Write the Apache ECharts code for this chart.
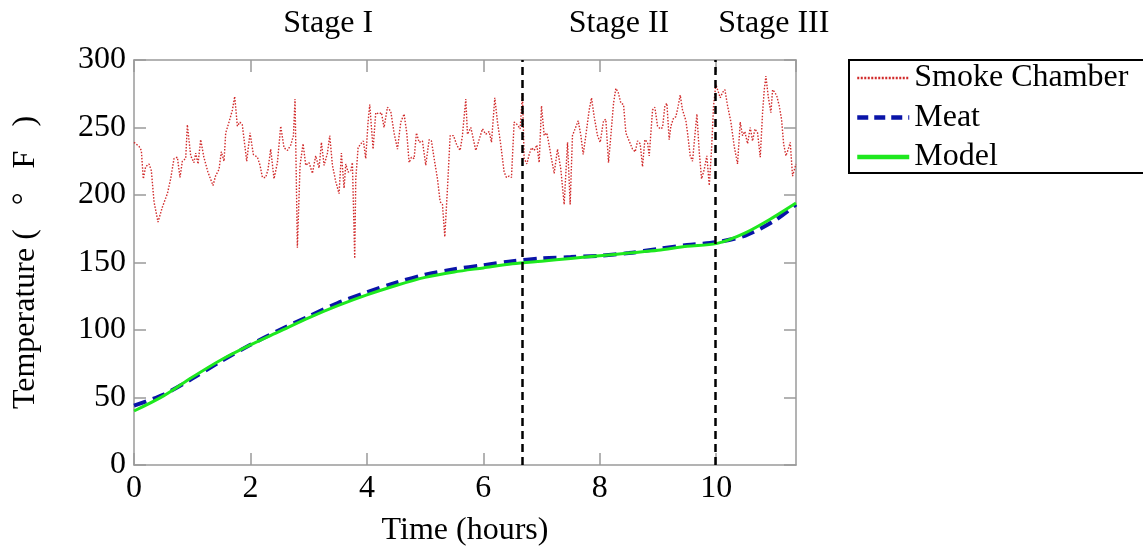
<!DOCTYPE html>
<html>
<head>
<meta charset="utf-8">
<title>Smoking temperature</title>
<script src="https://cdn.jsdelivr.net/npm/echarts/dist/echarts.min.js"></script>
<style>
  html, body { margin: 0; padding: 0; background: #fff; }
  #main { width: 1143px; height: 552px; }
</style>
</head>
<body>
<div id="main"></div>
<script>
  // smoke chamber readings (hours, deg F)
  var smokeTime = [
    0, 0.086, 0.126, 0.16, 0.2, 0.258, 0.298, 0.344, 0.412, 0.487, 0.573, 0.63, 0.687, 0.745, 0.79, 0.83, 0.888, 0.916, 0.974, 1.03,
    1.06, 1.10, 1.145, 1.20, 1.27, 1.357, 1.40, 1.46, 1.50, 1.546, 1.575, 1.632, 1.69, 1.73, 1.775, 1.82, 1.86,
    1.936, 1.993, 2.05, 2.12, 2.165, 2.205, 2.262, 2.302, 2.348, 2.405, 2.463, 2.52, 2.577, 2.635, 2.692, 2.738, 2.766, 2.806, 2.852, 2.904,
    2.95, 3.007, 3.064, 3.121, 3.179, 3.219, 3.265, 3.322, 3.362, 3.408, 3.465, 3.522, 3.562, 3.608, 3.637, 3.677, 3.723, 3.751, 3.791,
    3.809, 3.849, 3.895, 3.94, 3.98, 4.02, 4.049, 4.078, 4.106, 4.152, 4.21, 4.25, 4.295, 4.353, 4.41, 4.467, 4.525, 4.582, 4.639, 4.685,
    4.725, 4.765, 4.811, 4.851, 4.897, 4.954, 5.011, 5.069, 5.109, 5.155, 5.212, 5.258, 5.298, 5.338, 5.384, 5.43, 5.487, 5.544, 5.601, 5.641, 5.67,
    5.699, 5.727, 5.785, 5.87, 5.928, 5.985, 6.042, 6.1, 6.14, 6.197, 6.243, 6.3, 6.357, 6.397, 6.443, 6.483, 6.529, 6.586, 6.632, 6.672,
    6.701, 6.747, 6.787, 6.827, 6.873, 6.919, 6.959, 6.999, 7.045, 7.09, 7.13, 7.17, 7.216, 7.274, 7.331, 7.388, 7.446, 7.491, 7.531,
    7.629, 7.675, 7.715, 7.76, 7.818, 7.858, 7.904, 7.961, 8.007, 8.064, 8.104, 8.15, 8.19, 8.236, 8.276, 8.316, 8.362, 8.408, 8.448, 8.505,
    8.562, 8.608, 8.648, 8.694, 8.734, 8.774, 8.82, 8.849, 8.906, 8.946, 8.992, 9.038, 9.078, 9.118, 9.152, 9.192, 9.221, 9.267, 9.307, 9.347,
    9.381, 9.421, 9.479,
    9.507, 9.553, 9.593, 9.633, 9.668, 9.708, 9.748, 9.794, 9.839, 9.88, 9.92, 9.954, 9.994, 10.023, 10.069, 10.109, 10.149, 10.195, 10.252, 10.309,
    10.366, 10.412, 10.452, 10.492, 10.538, 10.584, 10.624, 10.664, 10.71, 10.756, 10.796, 10.825, 10.853, 10.893, 10.939, 10.968, 11.008, 11.042,
    11.082, 11.122, 11.157, 11.197, 11.237, 11.271, 11.311, 11.369
  ];
  var smokeTemp = [
    239, 236, 233, 212, 221, 223, 218, 195, 180, 191, 201, 212, 227, 228, 213, 225, 227, 252, 229, 224,
    231, 223, 241, 228, 217, 207, 214, 219, 232, 225, 246, 254, 263, 273, 251, 254, 252,
    225, 246, 230, 228, 222, 213, 213, 219, 234, 212, 224, 251, 235, 233, 237, 244, 271, 161, 222, 238,
    222, 224, 216, 229, 220, 239, 222, 231, 244, 222, 210, 201, 231, 205, 223, 217, 218, 224, 153,
    212, 235, 238, 240, 227, 254, 267, 266, 234, 261, 260, 261, 250, 265, 262, 246, 234, 254, 260, 246,
    224, 228, 227, 246, 239, 240, 222, 241, 240, 227, 212, 195, 193, 169, 205, 244, 244, 237, 233, 244, 258,
    271, 245, 250, 233, 241, 249, 245, 247, 239, 272, 254, 237, 217, 213, 214, 213, 254, 252, 249, 275,
    227, 223, 230, 235, 233, 237, 224, 266, 244, 246, 237, 227, 216, 234, 219, 193, 239, 193, 244,
    255, 244, 230, 244, 263, 272, 258, 244, 239, 255, 256, 224, 244, 268, 279, 276, 268, 267, 246, 240,
    234, 232, 240, 238, 221, 241, 239, 229, 263, 265, 251, 249, 250, 266, 268, 241, 251, 257, 258, 266,
    274, 263, 255,
    246, 229, 225, 244, 260, 232, 212, 219, 229, 207, 234, 266, 282, 278, 272, 276, 278, 266, 254, 236,
    223, 254, 244, 247, 238, 250, 240, 249, 246, 228, 261, 278, 288, 273, 261, 278, 276, 273,
    266, 256, 238, 229, 234, 239, 214, 223
  ];

  // meat probe and model (hours, deg F)
  var curveTime = [0, 0.5, 1, 1.5, 2, 2.5, 3, 3.5, 4, 4.5, 5, 5.5, 6, 6.5, 7, 7.5, 8, 8.5, 9, 9.5, 10, 10.5, 11, 11.37];
  var meatTemp = [44, 52, 64, 77, 89, 100, 110, 120, 128, 135, 141, 145, 148, 151, 153, 154, 155, 157, 160, 163, 165, 170, 181, 193];
  var modelTemp = [40, 51, 65, 78, 89, 99, 109, 118, 126, 133, 139, 143, 146, 149, 151, 153, 155, 157, 159, 162, 164, 172, 184, 194];

  var stageNames = ['Stage I', 'Stage II', 'Stage III'];
  var stageBounds = [0, 6.67, 9.99, 11.37];
  var xTicks = [0, 2, 4, 6, 8, 10];
  var yTicks = [0, 50, 100, 150, 200, 250, 300];

  function pairs(xs, ys) {
    return xs.map(function (x, i) { return [x, ys[i]]; });
  }

  var serif = 'Liberation Serif';
  var grey = '#9a9a9a';
  var fs = 32;

  var stageAreas = stageNames.map(function (name, i) {
    var start = { xAxis: stageBounds[i], name: name };
    if (i === 2) start.label = { offset: [18, 0] };
    return [start, { xAxis: stageBounds[i + 1] }];
  });

  function xAx(pos) {
    return {
      type: 'value', position: pos, min: 0, max: stageBounds[3], interval: 2,
      axisLine: { show: true, onZero: false, lineStyle: { color: grey, width: 1.5 } },
      axisTick: { show: true, inside: true, length: 12, lineStyle: { color: grey, width: 1.5 } },
      axisLabel: {
        show: pos === 'bottom', showMaxLabel: false, margin: 8,
        fontFamily: serif, fontSize: fs, color: '#000',
        formatter: function (v) { return xTicks.indexOf(v) >= 0 ? String(v) : ''; }
      },
      splitLine: { show: false },
      name: pos === 'bottom' ? 'Time (hours)' : '',
      nameLocation: 'middle', nameGap: 50,
      nameTextStyle: { fontFamily: serif, fontSize: fs, color: '#000' }
    };
  }

  function yAx(pos) {
    return {
      type: 'value', position: pos, min: yTicks[0], max: yTicks[yTicks.length - 1], interval: 50,
      axisLine: { show: true, onZero: false, lineStyle: { color: grey, width: 1.5 } },
      axisTick: { show: true, inside: true, length: 12, lineStyle: { color: grey, width: 1.5 } },
      axisLabel: {
        show: pos === 'left', margin: 8,
        fontFamily: serif, fontSize: fs, color: '#000'
      },
      splitLine: { show: false },
      name: pos === 'left' ? 'Temperature (   \u00b0   F   )' : '',
      nameLocation: 'middle', nameGap: 92,
      nameTextStyle: { fontFamily: serif, fontSize: fs, color: '#000' }
    };
  }

  var chart = echarts.init(document.getElementById('main'));
  chart.setOption({
    backgroundColor: '#fff',
    animation: false,
    grid: { left: 134, top: 60, right: 347, bottom: 83 },
    xAxis: [xAx('bottom'), xAx('top')],
    yAxis: [yAx('left'), yAx('right')],
    legend: {
      orient: 'vertical', left: 849, top: 60,
      itemWidth: 52, itemHeight: 12, itemGap: 7.5,
      padding: [2, 40, 0, 6],
      borderColor: '#000', borderWidth: 2,
      itemStyle: { opacity: 0 },
      textStyle: { fontFamily: serif, fontSize: fs, lineHeight: 32, color: '#000' },
      data: [
        { name: 'Smoke Chamber', lineStyle: { width: 2.5, type: [2, 1.5] } },
        { name: 'Meat', lineStyle: { width: 4.5, type: [11, 6] } },
        { name: 'Model', lineStyle: { width: 4.5 } }
      ]
    },
    series: [
      {
        name: 'Smoke Chamber', type: 'line', symbol: 'none',
        data: pairs(smokeTime, smokeTemp),
        lineStyle: { color: '#d12b2b', width: 1.4, type: [1.5, 1.6] },
        itemStyle: { color: '#d12b2b' }
      },
      {
        name: 'Meat', type: 'line', symbol: 'none', smooth: 0.3,
        data: pairs(curveTime, meatTemp),
        lineStyle: { color: '#0a14a8', width: 4, type: [13, 7] },
        itemStyle: { color: '#0a14a8' },
        markLine: {
          silent: true, symbol: ['none', 'none'],
          label: { show: false },
          lineStyle: { color: '#000', width: 2.5, type: [8, 5] },
          data: [{ xAxis: stageBounds[1] }, { xAxis: stageBounds[2] }]
        }
      },
      {
        name: 'Model', type: 'line', symbol: 'none', smooth: 0.3,
        data: pairs(curveTime, modelTemp),
        lineStyle: { color: '#1ee81e', width: 3 },
        itemStyle: { color: '#1ee81e' },
        markArea: {
          silent: true,
          itemStyle: { color: 'rgba(0,0,0,0)' },
          label: { show: true, position: 'top', distance: 20, fontFamily: serif, fontSize: fs, color: '#000' },
          data: stageAreas
        }
      }
    ]
  });
</script>
</body>
</html>
